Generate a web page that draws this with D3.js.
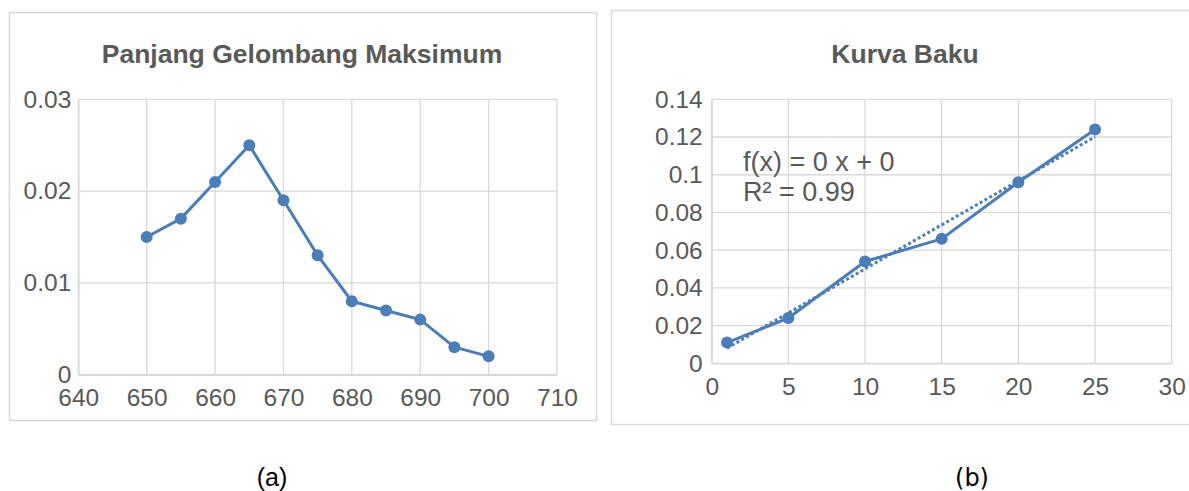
<!DOCTYPE html>
<html>
<head>
<meta charset="utf-8">
<script src="https://cdn.jsdelivr.net/npm/d3@7"></script>
<style>
  body { margin: 0; background: #fff; }
  text { font-family: "Liberation Sans", Arial, sans-serif; fill: #595959; }
</style>
</head>
<body>
<div id="chart"></div>
<script>
// data for chart (a)
var waveX = [650, 655, 660, 665, 670, 675, 680, 685, 690, 695, 700];
var waveY = [0.015, 0.017, 0.021, 0.025, 0.019, 0.013, 0.008, 0.007, 0.006, 0.003, 0.002];
var waveXTicks = [640, 650, 660, 670, 680, 690, 700, 710];
var waveYTicks = [0, 0.01, 0.02, 0.03];
var waveYLabels = ["0", "0.01", "0.02", "0.03"];

// data for chart (b)
var stdX = [1, 5, 10, 15, 20, 25];
var stdY = [0.011, 0.024, 0.054, 0.066, 0.096, 0.124];
var stdXTicks = [0, 5, 10, 15, 20, 25, 30];
var stdYTicks = [0, 0.02, 0.04, 0.06, 0.08, 0.1, 0.12, 0.14];
var stdYLabels = ["0", "0.02", "0.04", "0.06", "0.08", "0.1", "0.12", "0.14"];

var blue = "#4a7ebb", grid = "#d9d9d9";

var svg = d3.select("#chart").append("svg")
  .attr("width", 1189)
  .attr("height", 491);

// panel borders
svg.append("rect").attr("x", 9.5).attr("y", 12.5).attr("width", 587).attr("height", 408)
  .attr("fill", "none").attr("stroke", grid).attr("stroke-width", 1.5);
svg.append("rect").attr("x", 611.5).attr("y", 10.5).attr("width", 588).attr("height", 414)
  .attr("fill", "none").attr("stroke", grid).attr("stroke-width", 1.5);

function drawPanel(cfg) {
  var x = d3.scaleLinear().domain(cfg.xDomain).range(cfg.xRange);
  var y = d3.scaleLinear().domain(cfg.yDomain).range(cfg.yRange);
  var g = svg.append("g");

  // gridlines
  g.selectAll(".vg").data(cfg.xTicks).enter().append("line")
    .attr("x1", function(d) { return x(d); }).attr("x2", function(d) { return x(d); })
    .attr("y1", cfg.yRange[0]).attr("y2", cfg.yRange[1])
    .attr("stroke", grid).attr("stroke-width", 1.3);
  g.selectAll(".hg").data(cfg.yTicks).enter().append("line")
    .attr("x1", cfg.xRange[0]).attr("x2", cfg.xRange[1])
    .attr("y1", function(d) { return y(d); }).attr("y2", function(d) { return y(d); })
    .attr("stroke", grid).attr("stroke-width", 1.3);

  // axes
  var xAxis = g.append("g")
    .attr("transform", "translate(0," + cfg.yRange[0] + ")")
    .call(d3.axisBottom(x).tickValues(cfg.xTicks).tickSize(0).tickPadding(14).tickFormat(d3.format("d")));
  var yAxis = g.append("g")
    .attr("transform", "translate(" + cfg.xRange[0] + ",0)")
    .call(d3.axisLeft(y).tickValues(cfg.yTicks).tickSize(0).tickPadding(cfg.yPad)
      .tickFormat(function(d, i) { return cfg.yLabels[i]; }));
  [xAxis, yAxis].forEach(function(a) {
    a.select(".domain").attr("stroke", grid).attr("stroke-width", 1.5);
    a.selectAll("text").attr("font-size", 24.5).attr("font-family", null).attr("fill", "#595959");
  });

  // title
  svg.append("text")
    .attr("x", cfg.titleX).attr("y", 63)
    .attr("text-anchor", "middle")
    .attr("font-size", 26.5).attr("font-weight", "bold")
    .text(cfg.title);

  var pts = cfg.xs.map(function(d, i) { return [d, cfg.ys[i]]; });
  var line = d3.line().x(function(d) { return x(d[0]); }).y(function(d) { return y(d[1]); });

  if (cfg.trend) {
    // least squares trendline
    var n = pts.length;
    var mx = d3.mean(pts, function(d) { return d[0]; });
    var my = d3.mean(pts, function(d) { return d[1]; });
    var sxy = d3.sum(pts, function(d) { return (d[0] - mx) * (d[1] - my); });
    var sxx = d3.sum(pts, function(d) { return (d[0] - mx) * (d[0] - mx); });
    var m = sxy / sxx, b = my - m * mx;
    var ends = [cfg.xs[0], cfg.xs[n - 1]].map(function(v) { return [v, m * v + b]; });
    g.append("path").attr("d", line(ends))
      .attr("fill", "none").attr("stroke", blue).attr("stroke-width", 3)
      .attr("stroke-dasharray", "3,2.5");
  }

  g.append("path").attr("d", line(pts))
    .attr("fill", "none").attr("stroke", blue).attr("stroke-width", 3)
    .attr("stroke-linejoin", "round");

  g.selectAll(".pt").data(pts).enter().append("circle")
    .attr("cx", function(d) { return x(d[0]); })
    .attr("cy", function(d) { return y(d[1]); })
    .attr("r", 6)
    .attr("fill", blue);

  return { x: x, y: y };
}

drawPanel({
  title: "Panjang Gelombang Maksimum", titleX: 302,
  xs: waveX, ys: waveY,
  xDomain: [640, 710], xRange: [78.3, 557],
  yDomain: [0, 0.03], yRange: [374.7, 99.3],
  xTicks: waveXTicks, yTicks: waveYTicks, yLabels: waveYLabels, yPad: 7
});

drawPanel({
  title: "Kurva Baku", titleX: 905,
  xs: stdX, ys: stdY, trend: true,
  xDomain: [0, 30], xRange: [711.7, 1171.7],
  yDomain: [0, 0.14], yRange: [363.3, 99.3],
  xTicks: stdXTicks, yTicks: stdYTicks, yLabels: stdYLabels, yPad: 9
});

// trendline label
svg.append("text").attr("x", 743).attr("y", 171).attr("font-size", 27).text("f(x) = 0 x + 0");
svg.append("text").attr("x", 743).attr("y", 201).attr("font-size", 27).text("R² = 0.99");

// captions
svg.append("text").attr("x", 272).attr("y", 486).attr("text-anchor", "middle")
  .attr("font-size", 25).style("fill", "#000").text("(a)");
svg.append("text").attr("x", 972).attr("y", 486).attr("text-anchor", "middle")
  .attr("font-size", 24).style("font-family", "'DejaVu Sans', sans-serif").style("fill", "#000").text("(b)");
</script>
</body>
</html>
